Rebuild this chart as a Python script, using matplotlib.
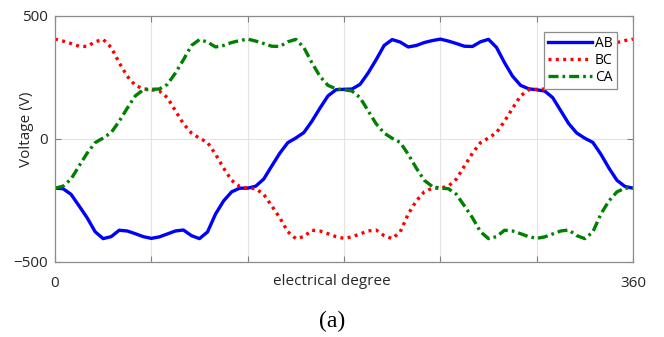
# line-to-line voltages over one electrical period
import matplotlib
matplotlib.use("Agg")
import matplotlib.pyplot as plt
import numpy as np

deg = np.arange(0, 361, 5)

v_ab = [-200, -202, -225, -272, -320, -377, -405, -397, -371, -374,
        -385, -397, -404, -398, -386, -374, -370, -393, -405, -378,
        -305, -252, -215, -200, -200, -192, -163, -110, -58, -15,
        4, 26, 72, 125, 175, 200, 202, 203, 222, 268,
        322, 380, 404, 394, 374, 380, 392, 400, 406, 398,
        388, 377, 376, 395, 405, 372, 310, 255, 218, 204,
        200, 195, 168, 115, 62, 24, 3, -14, -62, -118,
        -168, -193, -200]

v_bc = [406, 398, 388, 377, 376, 395, 405, 372, 310, 255,
        218, 204, 200, 195, 168, 115, 62, 24, 3, -14,
        -62, -118, -168, -193, -200, -202, -225, -272, -320, -377,
        -405, -397, -371, -374, -385, -397, -404, -398, -386, -374,
        -370, -393, -405, -378, -305, -252, -215, -200, -200, -192,
        -163, -110, -58, -15, 4, 26, 72, 125, 175, 200,
        202, 203, 222, 268, 322, 380, 404, 394, 374, 380,
        392, 400, 406]

v_ca = [-200, -192, -163, -110, -58, -15, 4, 26, 72, 125,
        175, 200, 202, 203, 222, 268, 322, 380, 404, 394,
        374, 380, 392, 400, 406, 398, 388, 377, 376, 395,
        405, 372, 310, 255, 218, 204, 200, 195, 168, 115,
        62, 24, 3, -14, -62, -118, -168, -193, -200, -202,
        -225, -272, -320, -377, -405, -397, -371, -374, -385, -397,
        -404, -398, -386, -374, -370, -393, -405, -378, -305, -252,
        -215, -200, -200]

x_ticks = [0, 60, 120, 180, 240, 300, 360]
x_ticklabels = ['0', '', '', '', '', '', '360']
y_ticks = [-500, 0, 500]

plt.rcParams['font.family'] = ['Open Sans', 'DejaVu Sans']

fig = plt.figure(figsize=(6.64, 3.37), dpi=100)
ax = fig.add_axes([0.0828, 0.2226, 0.8705, 0.730])

ax.plot(deg, v_ab, color=(0, 0, 1), lw=2.4, label='AB')
ax.plot(deg, v_bc, color=(1, 0, 0), lw=2.4, linestyle=(0, (0.9, 1.3)), label='BC')
ax.plot(deg, v_ca, color=(0, 0.5, 0), lw=2.4, linestyle=(0, (3, 1.2, 0.8, 1.2)), label='CA')

ax.set_xlim(0, 360)
ax.set_ylim(-500, 500)
ax.set_xticks(x_ticks)
ax.set_xticklabels(x_ticklabels)
ax.set_yticks(y_ticks)
ax.tick_params(direction='in', length=4, top=True, right=True, colors='#808080',
               labelcolor='#262626', labelsize=11)
ax.tick_params(axis='x', pad=10)
ax.tick_params(axis='y', pad=5)
ax.grid(True, color='#e3e3e3', lw=0.8)
for s in ax.spines.values():
    s.set_color('#8c8c8c')
    s.set_linewidth(0.9)

ax.set_xlabel('electrical degree', fontsize=11, color='#262626')
ax.xaxis.set_label_coords(0.479, -0.05)
ax.set_ylabel('Voltage (V)', fontsize=11, color='#262626')
ax.yaxis.set_label_coords(-0.037, 0.54)

leg = ax.legend(loc='upper right', bbox_to_anchor=(0.972, 0.935), fontsize=10,
                handlelength=3.2, handletextpad=0.2, borderpad=0.3, labelspacing=0.15,
                fancybox=False, framealpha=1, borderaxespad=0)
leg.get_frame().set_edgecolor('#8c8c8c')
leg.get_frame().set_linewidth(0.9)

fig.text(0.5, 0.047, '(a)', fontsize=17, family='Liberation Serif',
         ha='center', va='center')

plt.savefig('out.png', dpi=100)
